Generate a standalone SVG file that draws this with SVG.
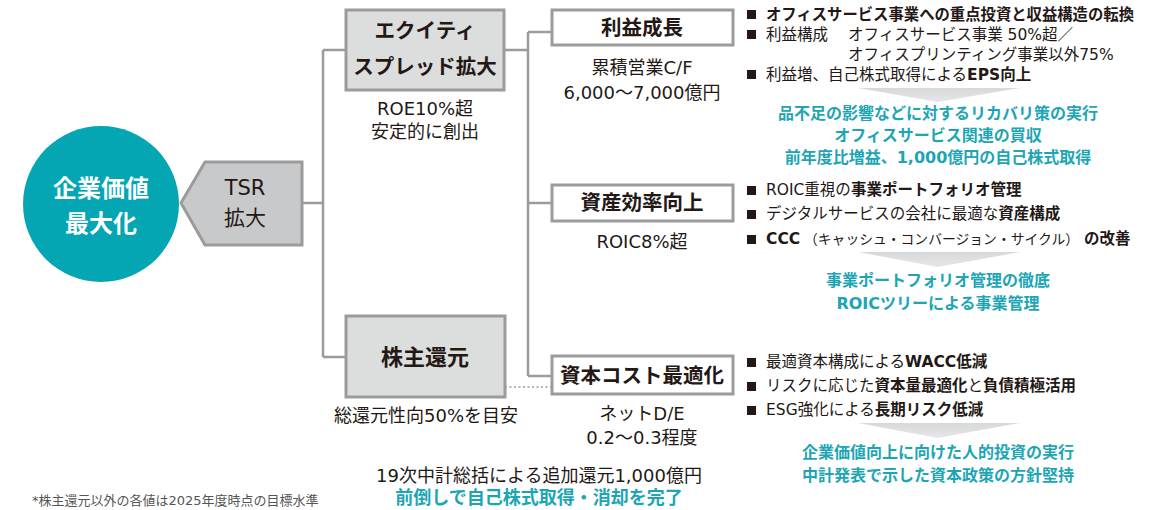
<svg xmlns="http://www.w3.org/2000/svg" width="1168" height="510" viewBox="0 0 1168 510">
<style>
text{font-family:"DejaVu Sans","Noto Sans CJK JP",sans-serif;fill:#231815}
.c{text-anchor:middle;dominant-baseline:central}
.box{font-size:20.5px;font-weight:700}
.sub{font-size:18px}
.b{font-size:15.5px;dominant-baseline:central}
.bb{font-weight:700}
.teal{fill:#1ca5b5;font-size:16px;font-weight:700}
.line{fill:none;stroke:#9b9b9b;stroke-width:2.5}
.gbox{fill:#dcdddd;stroke:#9b9b9b;stroke-width:3}
.wbox{fill:#fff;stroke:#9b9b9b;stroke-width:3}
.sq{fill:#231815}
.tri{fill:url(#trig)}
</style>
<defs>
<linearGradient id="trig" x1="0" y1="0" x2="0" y2="1">
<stop offset="0" stop-color="#d7d8d9"/>
<stop offset="1" stop-color="#e6e7e8"/>
</linearGradient>
</defs>
<g id="connectors">
<path class="line" d="M302,203 H323 M323,50 V357 M323,50 H346 M323,357 H346"/>
<path class="line" d="M504,50 H528 M528,32 V376 M528,32 H552 M528,203 H552 M528,376 H552"/>
<path fill="none" stroke="#9b9b9b" stroke-width="1.5" stroke-dasharray="2,2.5" d="M505,387 H552"/>
</g>
<g id="node-kigyo">
<circle cx="101" cy="204" r="78" fill="#05a6b4"/>
<text class="c" x="101" y="189" style="fill:#fff;font-size:24px;font-weight:700">企業価値</text>
<text class="c" x="101" y="224" style="fill:#fff;font-size:24px;font-weight:700">最大化</text>
</g>
<g id="node-tsr">
<polygon points="181,203 205,162 302,162 302,245 205,245" fill="#c8c9ca" stroke="#9b9b9b" stroke-width="3"/>
<text class="c" x="245" y="188" style="font-size:21px">TSR</text>
<text class="c" x="245" y="218" style="font-size:21px">拡大</text>
</g>
<g id="node-equity">
<rect class="gbox" x="346" y="10" width="158" height="80"/>
<text class="c box" x="425" y="31">エクイティ</text>
<text class="c box" x="425" y="67">スプレッド拡大</text>
<text class="c sub" x="425" y="108">ROE10%超</text>
<text class="c sub" x="425" y="131">安定的に創出</text>
</g>
<g id="node-kabunushi">
<rect class="gbox" x="346" y="316" width="159" height="81"/>
<text class="c box" x="425" y="357" style="font-size:22px">株主還元</text>
<text class="c sub" x="426" y="415">総還元性向50%を目安</text>
</g>
<g id="node-rieki">
<rect class="wbox" x="552" y="10" width="181" height="35"/>
<text class="c box" x="642" y="28">利益成長</text>
<text class="c sub" x="642" y="67">累積営業C/F</text>
<text class="c sub" x="642" y="92">6,000～7,000億円</text>
</g>
<g id="node-shisan">
<rect class="wbox" x="552" y="185" width="181" height="36"/>
<text class="c box" x="642" y="203">資産効率向上</text>
<text class="c sub" x="642" y="241">ROIC8%超</text>
</g>
<g id="node-shihon">
<rect class="wbox" x="552" y="356" width="181" height="38"/>
<text class="c box" x="642" y="376">資本コスト最適化</text>
<text class="c sub" x="642" y="413">ネットD/E</text>
<text class="c sub" x="642" y="437">0.2～0.3程度</text>
</g>
<g id="bullets-rieki">
<rect class="sq" x="747" y="10" width="9" height="9"/>
<rect class="sq" x="747" y="30" width="9" height="9"/>
<rect class="sq" x="747" y="70" width="9" height="9"/>
<text class="b bb" x="766" y="15" textLength="368" lengthAdjust="spacingAndGlyphs">オフィスサービス事業への重点投資と収益構造の転換</text>
<text class="b" x="766" y="35">利益構成</text>
<text class="b" x="848" y="35">オフィスサービス事業 50%超／</text>
<text class="b" x="848" y="55">オフィスプリンティング事業以外75%</text>
<text class="b" x="766" y="75">利益増、自己株式取得による<tspan class="bb">EPS向上</tspan></text>
<polygon class="tri" points="858,88 1020,88 938,102"/>
<text class="c teal" x="938" y="113">品不足の影響などに対するリカバリ策の実行</text>
<text class="c teal" x="938" y="135">オフィスサービス関連の買収</text>
<text class="c teal" x="938" y="157">前年度比増益、1,000億円の自己株式取得</text>
</g>
<g id="bullets-shisan">
<rect class="sq" x="747" y="186" width="9" height="9"/>
<rect class="sq" x="747" y="210" width="9" height="9"/>
<rect class="sq" x="747" y="235" width="9" height="9"/>
<text class="b" x="766" y="190">ROIC重視の<tspan class="bb">事業ポートフォリオ管理</tspan></text>
<text class="b" x="766" y="214">デジタルサービスの会社に最適な<tspan class="bb">資産構成</tspan></text>
<text class="b bb" x="766" y="239">CCC</text>
<text class="b" x="804" y="239" style="font-size:13.8px">（キャッシュ・コンバージョン・サイクル）</text>
<text class="b bb" x="1084" y="239">の改善</text>
<polygon class="tri" points="858,252 1020,252 938,267"/>
<text class="c teal" x="938" y="280">事業ポートフォリオ管理の徹底</text>
<text class="c teal" x="938" y="303">ROICツリーによる事業管理</text>
</g>
<g id="bullets-shihon">
<rect class="sq" x="747" y="358" width="9" height="9"/>
<rect class="sq" x="747" y="382" width="9" height="9"/>
<rect class="sq" x="747" y="406" width="9" height="9"/>
<text class="b" x="766" y="362">最適資本構成による<tspan class="bb">WACC低減</tspan></text>
<text class="b" x="766" y="386">リスクに応じた<tspan class="bb">資本量最適化</tspan>と<tspan class="bb">負債積極活用</tspan></text>
<text class="b" x="766" y="410">ESG強化による<tspan class="bb">長期リスク低減</tspan></text>
<polygon class="tri" points="858,423 1020,423 938,438"/>
<text class="c teal" x="938" y="452">企業価値向上に向けた人的投資の実行</text>
<text class="c teal" x="938" y="475">中計発表で示した資本政策の方針堅持</text>
</g>
<g id="notes">
<text class="c sub" x="539" y="475">19次中計総括による追加還元1,000億円</text>
<text class="c teal" x="539" y="497" style="font-size:18px">前倒しで自己株式取得・消却を完了</text>
<text x="32" y="500" style="font-size:13px;fill:#555;dominant-baseline:central">*株主還元以外の各値は2025年度時点の目標水準</text>
</g>
</svg>
